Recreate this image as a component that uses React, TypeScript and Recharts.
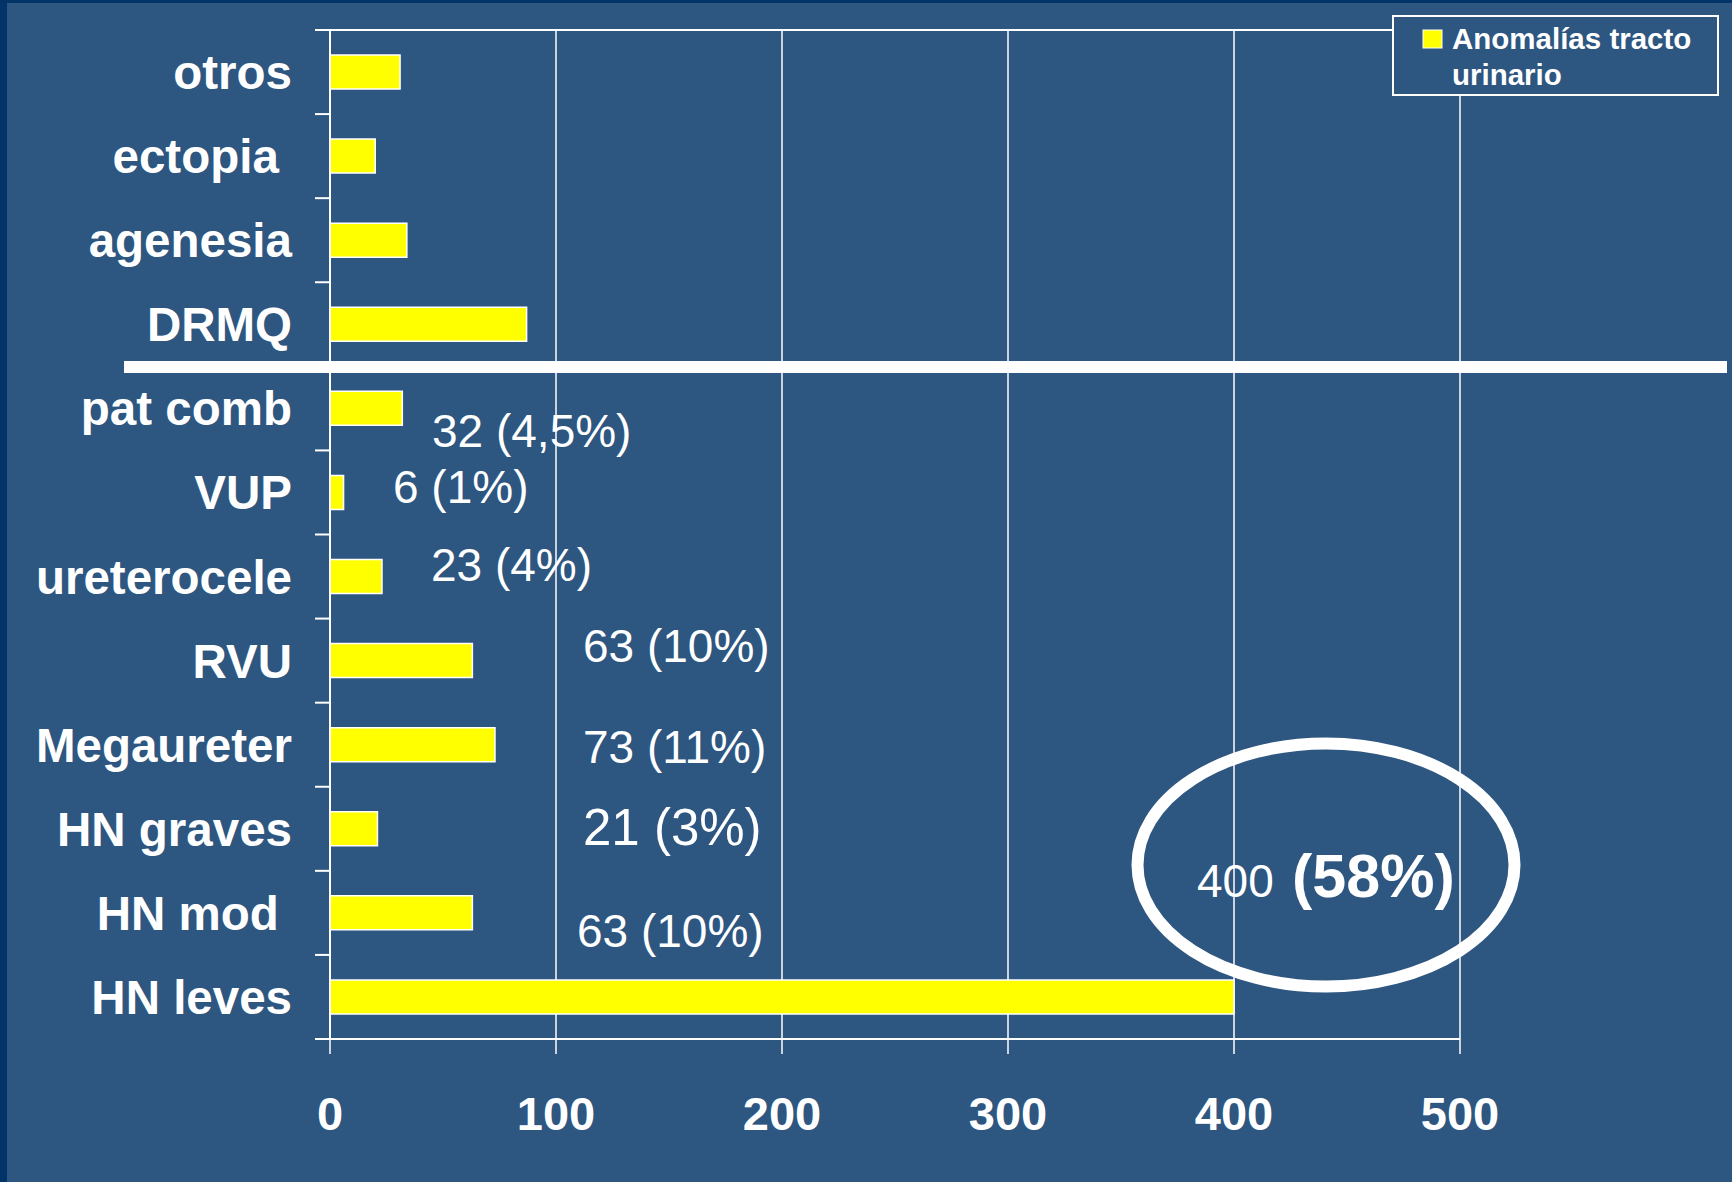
import React from 'react';
import { BarChart, Bar, XAxis, YAxis, CartesianGrid } from 'recharts';

// categories top to bottom, trailing spaces are in the original labels
const categories = ['otros', 'ectopia ', 'agenesia', 'DRMQ', 'pat comb', 'VUP', 'ureterocele', 'RVU', 'Megaureter', 'HN graves', 'HN mod ', 'HN leves'];
const counts = [31, 20, 34, 87, 32, 6, 23, 63, 73, 21, 63, 400];
const shares = ['', '', '', '', '4,5', '1', '4', '10', '11', '3', '10', '58'];
const xTicks = [0, 100, 200, 300, 400, 500];
const seriesName = 'Anomalías tracto urinario';

const data = categories.map((name, i) => ({ name, value: counts[i] }));

const W = 1732;
const H = 1182;
const PLOT_LEFT = 330;
const PLOT_RIGHT = 1460;
const PLOT_TOP = 30;
const PLOT_BOTTOM = 1039;
const FONT = '"Liberation Sans", Arial, sans-serif';
const BG = '#2D5680';
const YELLOW = '#FFFF00';

// where the free text boxes sit on the slide (by category index)
const notes: { idx: number; x: number; y: number; size: number }[] = [
  { idx: 4, x: 432, y: 447, size: 46 },
  { idx: 5, x: 393, y: 503, size: 46 },
  { idx: 6, x: 431, y: 581, size: 46 },
  { idx: 7, x: 583, y: 662, size: 46 },
  { idx: 8, x: 583, y: 763, size: 46 },
  { idx: 9, x: 583, y: 845, size: 51 },
  { idx: 10, x: 577, y: 947, size: 46 },
];

function CategoryTick(props: any) {
  const { y, payload, index } = props;
  const half = payload.offset ?? (PLOT_BOTTOM - PLOT_TOP) / categories.length / 2;
  const top = y - half;
  const last = index === categories.length - 1;
  return (
    <g>
      <line x1={PLOT_LEFT - 15} x2={index === 0 ? PLOT_RIGHT : PLOT_LEFT} y1={top} y2={top} stroke="#fff" strokeWidth={2} />
      {last && <line x1={PLOT_LEFT - 15} x2={PLOT_LEFT} y1={y + half} y2={y + half} stroke="#fff" strokeWidth={2} />}
      <text
        x={PLOT_LEFT - 38}
        y={y + 17}
        textAnchor="end"
        fill="#fff"
        fontSize={47.5}
        fontWeight="bold"
        fontFamily={FONT}
        xmlSpace="preserve"
        style={{ whiteSpace: 'pre' }}
      >
        {payload.value}
      </text>
    </g>
  );
}

function ValueTick(props: any) {
  const { x, payload } = props;
  return (
    <text x={x} y={PLOT_BOTTOM + 91} textAnchor="middle" fill="#fff" fontSize={47} fontWeight="bold" fontFamily={FONT}>
      {payload.value}
    </text>
  );
}

export default function App() {
  const i400 = counts.length - 1;
  const legendParts = ['Anomalías tracto', 'urinario'];
  return (
    <div style={{ position: 'absolute', left: 0, top: 0, width: W, height: H, background: BG, overflow: 'hidden' }}>
      <div style={{ position: 'absolute', left: 0, top: 0, width: 7, height: H, background: '#033467' }} />
      <div style={{ position: 'absolute', left: 0, top: 0, width: W, height: 3, background: '#033467' }} />
      <div style={{ position: 'absolute', left: 0, top: 0 }}>
        <BarChart
          width={W}
          height={H}
          data={data}
          layout="vertical"
          margin={{ top: PLOT_TOP, right: W - PLOT_RIGHT, left: 0, bottom: 0 }}
        >
          <CartesianGrid horizontal={false} stroke="#fff" strokeWidth={1.5} />
          <XAxis
            type="number"
            domain={[0, 500]}
            ticks={xTicks}
            interval={0}
            height={H - PLOT_BOTTOM}
            tickSize={15}
            axisLine={{ stroke: '#fff', strokeWidth: 2 }}
            tickLine={{ stroke: '#fff', strokeWidth: 1.5 }}
            tick={<ValueTick />}
          />
          <YAxis
            type="category"
            dataKey="name"
            width={PLOT_LEFT}
            interval={0}
            tickLine={false}
            axisLine={{ stroke: '#fff', strokeWidth: 2 }}
            tick={<CategoryTick />}
          />
          <Bar dataKey="value" name={seriesName} fill={YELLOW} stroke="#fff" strokeWidth={1.5} barSize={34} isAnimationActive={false} />
        </BarChart>
      </div>
      <svg width={W} height={H} style={{ position: 'absolute', left: 0, top: 0, pointerEvents: 'none' }}>
        {/* separator between the two groups */}
        <rect x={124} y={361} width={1603} height={12} fill="#fff" />
        {notes.map((n) => (
          <text key={n.idx} x={n.x} y={n.y} fill="#fff" fontSize={n.size} fontFamily={FONT}>
            {`${counts[n.idx]} (${shares[n.idx]}%)`}
          </text>
        ))}
        <ellipse cx={1326} cy={865} rx={188.5} ry={121.5} fill="none" stroke="#fff" strokeWidth={12} />
        <text y={897} fill="#fff" fontFamily={FONT}>
          <tspan x={1197} fontSize={46}>{counts[i400]}</tspan>
          <tspan x={1292} fontSize={61} fontWeight="bold">{`(${shares[i400]}%)`}</tspan>
        </text>
        {/* legend */}
        <rect x={1393} y={16} width={325} height={79} fill={BG} stroke="#fff" strokeWidth={2} />
        <rect x={1423} y={30} width={19} height={18} fill={YELLOW} stroke="#fff" strokeWidth={1} />
        <text x={1452} y={49} fill="#fff" fontSize={29.5} fontWeight="bold" fontFamily={FONT}>{legendParts[0]}</text>
        <text x={1452} y={85} fill="#fff" fontSize={29.5} fontWeight="bold" fontFamily={FONT}>{legendParts[1]}</text>
      </svg>
    </div>
  );
}
